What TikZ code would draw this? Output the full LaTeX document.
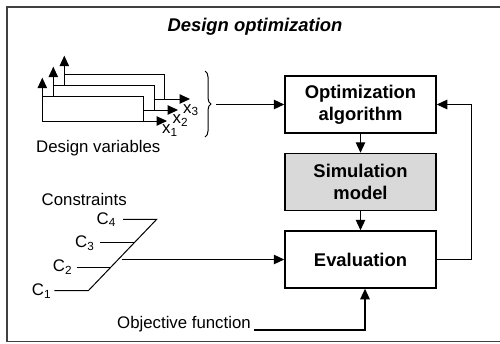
\documentclass[tikz,border=0pt]{standalone}
\usepackage{fontspec}
\setmainfont{Liberation Sans}
\usetikzlibrary{arrows.meta,decorations.pathreplacing}
\begin{document}
\begin{tikzpicture}[x=1pt,y=-1pt,
  tip/.style={-{Triangle[length=10.5pt,width=9.5pt]}},
  line/.style={line width=1.2pt},
  thin line/.style={line width=1pt},
  boxnode/.style={draw,line width=1.5pt,minimum width=151pt,minimum height=57pt,
    align=center,inner sep=0pt,font=\fontsize{18.4}{21.7}\selectfont\bfseries},
  lbl/.style={inner sep=0pt,font=\fontsize{16.8}{19}\selectfont},
]
\useasboundingbox (0,0) rectangle (500,343);
% frame
\draw[line width=1.6pt,black!75] (501,7) -- (7,7) -- (7,341.5) -- (501,341.5);
% title
\node[inner sep=0pt,anchor=base,font=\fontsize{18.4}{21}\selectfont\bfseries\itshape] (title) at (255,31.7) {Design optimization};
% boxes
\node[boxnode] (opt) at (360.5,104.5) {Optimization\\algorithm};
\node[boxnode,fill=black!15] (sim) at (360.5,182) {Simulation\\model};
\node[boxnode] (eval) at (360.5,259.5) {Evaluation};
\draw[line,tip] (opt) -- (sim);
\draw[line,tip] (sim) -- (eval);
\draw[line,tip] (eval.east) -- ++(35,0) |- (opt.east);
% design variables graphic
\draw[thin line,{Triangle[length=10.5pt,width=9.5pt]}-{Triangle[length=10.5pt,width=9.5pt]}] (42.3,77.7) |- (167,121);
\draw[thin line] (42.3,96.7) -| (143.3,121);
\draw[thin line,tip] (53.3,96.7) -- (53.3,66.7);
\draw[thin line] (53.3,85.7) -| (154,110);
\draw[thin line,tip] (143.3,110) -- (178,110);
\draw[thin line,tip] (64.3,85.7) -- (64.3,55.7);
\draw[thin line] (64.3,74.3) -| (164.3,99);
\draw[thin line,tip] (154,99) -- (190,99);
\node[lbl,anchor=base west] (x1) at (162,133.5) {x\textsubscript{1}};
\node[lbl,anchor=base west] (x2) at (172.5,123.5) {x\textsubscript{2}};
\node[lbl,anchor=base west] (x3) at (183,113) {x\textsubscript{3}};
\node[lbl,anchor=base west] (dv) at (36,152.5) {Design variables};
\draw[thin line,decorate,decoration={brace,amplitude=6pt,aspect=0.5}] (205,71) -- (205,137);
\coordinate (bt) at (216,104.5);
\draw[line,tip] (bt) -- (opt.west);
% constraints
\node[lbl,anchor=base west] (cons) at (41.5,205) {Constraints};
\node[lbl,anchor=base west] (c4) at (96.5,224) {C\textsubscript{4}};
\node[lbl,anchor=base west] (c3) at (75,247.7) {C\textsubscript{3}};
\node[lbl,anchor=base west] (c2) at (52.7,271.7) {C\textsubscript{2}};
\node[lbl,anchor=base west] (c1) at (31.7,295.7) {C\textsubscript{1}};
\coordinate (d1) at (88.3,290.7);
\coordinate (d4) at (156.7,219.3);
\draw[thin line] (54.3,290.7) -- (d1) -- (d4) -- (123,219.3);
\draw[thin line] (76.7,267.3) -- (110.7,267.3);
\draw[thin line] (100,242.3) -- (134.7,242.3);
\coordinate (cj) at (121.5,259.5);
\draw[line,tip] (cj) -- (eval.west);
% objective function
\node[lbl,anchor=base west] (obj) at (117,328.3) {Objective function};
\draw[line,tip] ([xshift=3pt,yshift=-6pt]obj.east) -| ([xshift=4.5pt]eval.south);
\end{tikzpicture}
\end{document}
